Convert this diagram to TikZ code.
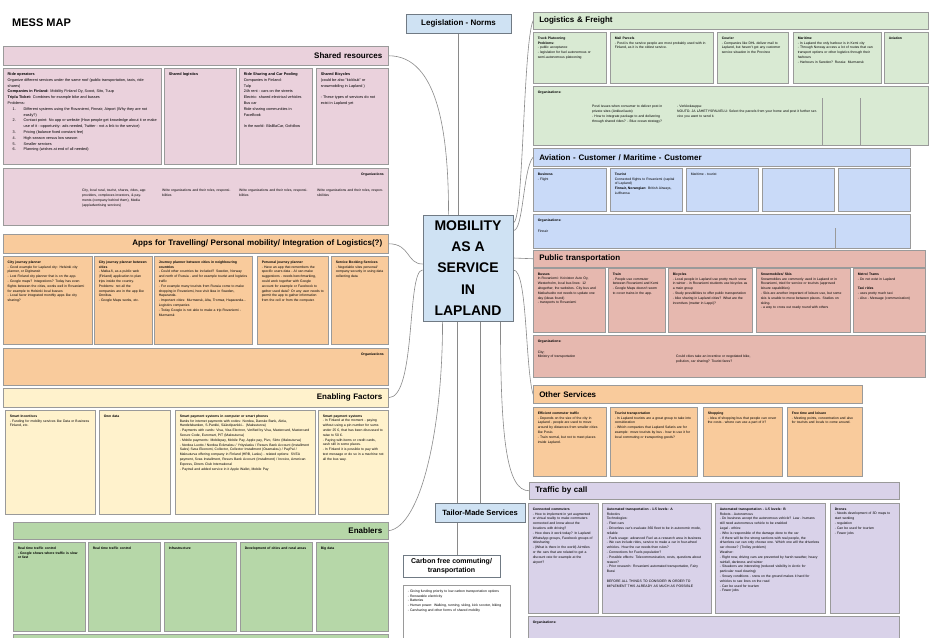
\documentclass[tikz,border=0pt]{standalone}
\usepackage{fontspec}
\setmainfont{Liberation Sans}
\usetikzlibrary{calc}

\definecolor{frame}{HTML}{9A9A9A}
\definecolor{hubframe}{HTML}{707A84}
\definecolor{linkgray}{HTML}{8A8A8A}
\definecolor{srpink}{HTML}{EAD1DC}
\definecolor{apporange}{HTML}{F9CB9C}
\definecolor{enyellow}{HTML}{FFF2CC}
\definecolor{engreen}{HTML}{B6D7A8}
\definecolor{lfgreen}{HTML}{D9EAD3}
\definecolor{avblue}{HTML}{C9DAF8}
\definecolor{ptred}{HTML}{E6B8AF}
\definecolor{tcpurple}{HTML}{D9D2E9}
\definecolor{hubblue}{HTML}{CFE2F3}

\pgfdeclarelayer{bg}
\pgfsetlayers{bg,main}

\newcommand\cardfont{\fontsize{3.4}{4.8}\selectfont}
\newcommand\cardfontlarge{\fontsize{3.8}{5.8}\selectfont}
\newdimen\mmcardw
\newdimen\mmcardh
\newdimen\mmheadw

% numbered item with hanging indent
\newcommand\numitem[1]{\par\hangindent=16pt\hangafter=1\noindent\makebox[16pt][l]{\hspace{5pt}#1}\ignorespaces}

\tikzset{
  cardbox/.style={draw=frame, line width=0.5pt, anchor=north west, inner sep=4.5pt,
    font=\cardfont, align=left},
  headbox/.style={draw=frame, line width=0.5pt, anchor=north west, inner xsep=6pt,
    inner ysep=0pt, font=\bfseries\fontsize{8}{9}\selectfont},
  orgnote/.style={anchor=north west, inner sep=2pt, font=\cardfont, align=left},
  hubbox/.style={draw=hubframe, line width=0.6pt, fill=hubblue, align=center},
  link/.style={draw=linkgray, line width=0.6pt},
  divider/.style={draw=frame, line width=0.4pt},
}

% card: name, fill, x, y, width, height, body
\newcommand\mkcard[7]{%
  \mmcardw=\dimexpr#5pt-9pt\relax
  \mmcardh=\dimexpr#6pt-9pt\relax
  \node[cardbox, fill=#2, text width=\mmcardw] (#1) at (#3,#4)
    {\parbox[t][\mmcardh][t]{\mmcardw}{\raggedright #7}};}
% header bar: name, fill, x, y, width, height, alignment, text
\newcommand\mkhead[8]{%
  \mmheadw=\dimexpr#5pt-12pt\relax
  \node[headbox, fill=#2, minimum width=#5pt, minimum height=#6pt,
        text width=\mmheadw, align=#7] (#1) at (#3,#4) {#8};}

\begin{document}
\begin{tikzpicture}[x=1pt,y=-1pt]
\useasboundingbox (0,0) rectangle (933,637);

\node[anchor=west, inner sep=0pt, font=\bfseries\fontsize{11}{13}\selectfont] (title) at (12,23) {MESS MAP};

% ---------------- hub and side boxes ----------------
\node[hubbox, minimum width=105pt, minimum height=19pt, font=\bfseries\fontsize{8}{9}\selectfont] (leg) at (458.5,23.5) {Legislation - Norms};
\node[hubbox, line width=0.9pt, minimum width=90pt, minimum height=106pt, font=\bfseries\fontsize{14}{21.3}\selectfont] (maas) at (468,268) {MOBILITY\\AS A\\SERVICE\\IN\\LAPLAND};
\node[hubbox, minimum width=90pt, minimum height=19pt, font=\bfseries\fontsize{7.6}{9}\selectfont] (tailor) at (480,512.5) {Tailor-Made Services};
\node[hubbox, fill=white, minimum width=97pt, minimum height=22pt, font=\bfseries\fontsize{7}{9}\selectfont] (carbon) at (451.5,566) {Carbon free commuting/\\transportation};
\mkcard{cfcard}{white}{403}{585}{107}{62}{- Giving funding priority to low carbon transportation options\\- Renewable electricity\\- Batteries\\- Human power: Walking, running, skiing, kick scooter, biking\\- Carsharing and other forms of shared mobility}

% ---------------- Shared resources ----------------
\mkhead{sr}{srpink}{3}{46}{385}{19}{right}{Shared resources}
\mkcard{srA}{srpink}{3}{68}{158}{96}{\cardfontlarge\textbf{Ride operators}\\
Organize different services under the same roof (public transportation, taxis, ride shares)\\
\textbf{Companies in Finland:} Mobility Finland Oy, Scoot, Sito, Tuup\\
\textbf{Tripla Ticket:} Combines for example bike and busses\\
Problems:
\numitem{1.}Different systems using the Rovaniemi, Finnair, Airport (Why they are not easily?)
\numitem{2.}Contact point: No app or website (How people get knowledge about it or make use of it - opportunity: ads needed, Twitter - not a link to the service)
\numitem{3.}Pricing (balance fixed constant fee)
\numitem{4.}High season versus low season
\numitem{5.}Smaller services
\numitem{6.}Planning (wishes at end of all needed)}
\mkcard{srB}{srpink}{164}{68}{72}{96}{\cardfontlarge\textbf{Shared logistics}}
\mkcard{srC}{srpink}{239}{68}{73}{96}{\cardfontlarge\textbf{Ride Sharing and Car Pooling}\\Companies in Finland:\\Tulp\\24h rent - cars on the streets\\Electric: shared electrical vehicles\\Bus car\\Ride sharing communities in FaceBook\par\vspace{5.8pt}In the world: BlaBlaCar, Gofollow}
\mkcard{srD}{srpink}{316}{68}{72}{96}{\cardfontlarge\textbf{Shared Bicycles}\\(could be also "kickbuk" or snowmobiling in Lapland )\par\vspace{5.8pt}- These types of services do not exist in Lapland yet}
\mkcard{srorg}{srpink}{3}{168}{385}{57}{\raggedleft\textbf{Organizations}\par}
\node[orgnote, text width=72pt] (srorgA) at (80,187) {City, local rural, tourist, shares, rides, app providers, complexes investors, \& payments (company behind them), Media (app/advertising services)};
\node[orgnote, text width=70pt] (srorgB) at (160,187) {Write organizations and their roles, responsibilities};
\node[orgnote, text width=70pt] (srorgC) at (237,187) {Write organizations and their roles, responsibilities};
\node[orgnote, text width=68pt] (srorgD) at (315,187) {Write organizations and their roles, responsibilities};

% ---------------- Apps ----------------
\mkhead{apps}{apporange}{3}{234}{385}{19}{right}{Apps for Travelling/ Personal mobility/ Integration of Logistics(?)}
\mkcard{appA}{apporange}{3}{256}{89}{88}{\textbf{City journey planner}\\- Good example for Lapland city: Helsinki city planner, or Digitransit\\- Lost Finland city planner that is on the app.\\- Google maps? Integrations? Today has even flights between the cities, works well in Rovaniemi for example to Helsinki local busses\\- Local favor integrated monthly apps like city sharing?}
\mkcard{appB}{apporange}{94}{256}{58}{88}{\textbf{City journey planner between cities}\\- Matka.fi, as a public web (Finland) application to plan trips inside the country. Problems: not all the companies are in the app like Onnibus.\\- Google Maps works, etc.}
\mkcard{appC}{apporange}{154}{256}{98}{88}{\textbf{Journey planner between cities in neighbouring countries}\\- Could other countries be included? Sweden, Norway and north of Russia - and for example tourist and logistics traffic\\- For example many tourists from Russia come to make shopping in Rovaniemi, how visit Ikea in Sweden, Haparanda.\\- Important cities: Murmansk, Alta, Tromsø, Haparanda... Logistics companies\\- Today Google is not able to make a trip Rovaniemi - Murmansk}
\mkcard{appD}{apporange}{257}{256}{71}{88}{\textbf{Personal journey planner}\\- Have an app that remembers the specific users data - AI can make suggestions - needs benchmarking, could work together with Google account for example or Facebook to gather used data? Or any user needs to permit the app to gather information from the cell or from the computer.}
\mkcard{appE}{apporange}{331}{256}{57}{88}{\textbf{Service Booking Services}\\- Negotiable sites personal/ company security in using data collecting data}
\mkcard{apporg}{apporange}{3}{348}{385}{37}{\raggedleft\textbf{Organizations}\par}

% ---------------- Enabling factors ----------------
\mkhead{ef}{enyellow}{3}{388}{385}{19}{right}{Enabling Factors}
\mkcard{efA}{enyellow}{5}{410}{90}{104}{\textbf{Smart Incentives}\\- Funding for mobility services like Data or Business Finland, etc.}
\mkcard{efB}{enyellow}{99}{410}{71}{104}{\textbf{Own data}}
\mkcard{efC}{enyellow}{175}{410}{140}{104}{\textbf{Smart payment systems in computer or smart phones}\\Banks for internet payments with codes: Nordea, Danske Bank, Aktia, Handelsbanken, S-Pankki, Säästöpankki... (Maksuturva)\\- Payments with cards: Visa, Visa Electron, Verified by Visa, Mastercard, Mastercard Secure Code, Euromart, PIT (Maksuturva)\\- Mobile payments: Mobilepay, Mobile Pay, Apple pay, Pivo, Siirto (Maksuturva)\\- Nordea Luotto / Nordea Erämaksu / Yrityslasku / Resurs Bank Account (Installment Sales) Svea Ekonomi, Collector, Collector Installment (Osamaksu) / PayPal / Maksuturva offering company in Finland (HRB, Lasku) - related options: SVEA payment, Svea Installment, Resurs Bank Account (Installment) / Invoice, American Express, Diners Club International\\- Paytrail and added service in it Apple Wallet, Mobile Pay}
\mkcard{efD}{enyellow}{318}{410}{70}{104}{\textbf{Smart payment systems}\\- In Finland at the moment - paying without using a pin number for sums under 25 €, that has been discussed to raise to 50 €.\\- Paying with items or credit cards, cash still in some places.\\- In Finland it is possible to pay with text message or do so in a machine not all the bus way.}

% ---------------- Enablers ----------------
\mkhead{en}{engreen}{13}{522}{375}{17}{right}{Enablers}
\mkcard{enA}{engreen}{13}{542}{72}{89}{\textbf{Real time traffic control\\- Google shows where traffic is slow or fast}}
\mkcard{enB}{engreen}{88}{542}{72}{89}{\textbf{Real time traffic control}}
\mkcard{enC}{engreen}{164}{542}{72}{89}{\textbf{Infrastructure}}
\mkcard{enD}{engreen}{240}{542}{72}{89}{\textbf{Development of cities and rural areas}}
\mkcard{enE}{engreen}{316}{542}{72}{89}{\textbf{Big data}}
\mkcard{enorg}{engreen}{13}{634}{375}{12}{}

% ---------------- Logistics & Freight ----------------
\mkhead{lf}{lfgreen}{533}{12}{395}{17}{left}{Logistics \& Freight}
\mkcard{lfA}{lfgreen}{533}{32}{73}{51}{\textbf{Truck Platooning}\\\textbf{Problems:}\\- public acceptance\\- legislation for fuel autonomous or semi-autonomous platooning}
\mkcard{lfB}{lfgreen}{610}{32}{103}{51}{\textbf{Mail Parcels}\\- Posti is the service people are most probably used with in Finland, as it is the oldest service.}
\mkcard{lfC}{lfgreen}{717}{32}{71}{51}{\textbf{Courier}\\- Companies like DHL deliver mail to Lapland, but haven't got any customer service situation in the Province}
\mkcard{lfD}{lfgreen}{793}{32}{88}{51}{\textbf{Maritime}\\- In Lapland the only harbour is in Kemi city\\- Through Norway access a lot of routes that can transport options or other logistics through their harbours\\- Harbours in Sweden? Russia: Murmansk}
\mkcard{lfE}{lfgreen}{884}{32}{44}{51}{\textbf{Aviation}}
\mkcard{lforg}{lfgreen}{533}{86}{395}{59}{\textbf{Organizations:}}
\node[orgnote, text width=72pt] (lforgA) at (590,103) {Posti issues when consumer to deliver post in private sites (Ankkuri/auto)\\- How to integrate package to and delivering through shared rides? - Blue ocean strategy?};
\node[orgnote, text width=140pt] (lforgB) at (675,103) {- Verkkokauppa:\\NOUTO- JA LÄHETYSPALVELU: Select the parcels from your home and post it further service you want to send it.};
\draw[divider] (822,98) -- (822,145);
\draw[divider] (860,98) -- (860,145);

% ---------------- Aviation / Maritime ----------------
\mkhead{av}{avblue}{533}{148}{377}{18}{left}{Aviation - Customer / Maritime - Customer}
\mkcard{avA}{avblue}{533}{168}{73}{43}{\textbf{Business}\\- Flight}
\mkcard{avB}{avblue}{610}{168}{72}{43}{\textbf{Tourist}\\Connected flights to Rovaniemi (capital of Lapland)\\\textbf{Finnair, Norwegian:} British Airways, Lufthansa}
\mkcard{avC}{avblue}{686}{168}{72}{43}{Maritime - tourist}
\mkcard{avD}{avblue}{762}{168}{72}{43}{}
\mkcard{avE}{avblue}{838}{168}{72}{43}{}
\mkcard{avorg}{avblue}{533}{214}{377}{34}{\textbf{Organizations:}\par\vspace{6pt}Finnair}
\draw[divider] (835,228) -- (835,248);

% ---------------- Public transportation ----------------
\mkhead{pt}{ptred}{533}{250}{392}{17}{left}{Public transportation}
\mkcard{ptA}{ptred}{533}{268}{72}{64}{\textbf{Busses}\\In Rovaniemi: Koiviston Auto Oy, Westerholm, local bus lines: 12 altogether, the websites. City bus and Matkahuolto net needs to update one day (ideas found)\\- transports to Rovaniemi}
\mkcard{ptB}{ptred}{608}{268}{57}{64}{\textbf{Train}\\- People use commuter between Rovaniemi and Kemi\\- Google Maps doesn't seem to cover trains in the app.}
\mkcard{ptC}{ptred}{668}{268}{84}{64}{\textbf{Bicycles}\\- Local people in Lapland use pretty much snow in winter - in Rovaniemi students use bicycles as a main group\\- Study possibilities to offer public transportation - bike sharing in Lapland cities? What are the incentives (matter in Lappi)?}
\mkcard{ptD}{ptred}{756}{268}{94}{64}{\textbf{Snowmobiles/ Skis}\\Snowmobiles are commonly used in Lapland or in Rovaniemi, tried for service or tourists (approved leisure capabilities)\\- Skis are another important of leisure use, but some skis is unable to move between places. Studies on skiing.\\- a way to cross out ready round with others}
\mkcard{ptE}{ptred}{853}{268}{72}{64}{\textbf{Metro/ Trams}\\- Do not exist in Lapland\par\vspace{4.8pt}\textbf{Taxi rides}\\- uses pretty much taxi\\- Also - Message (communication)}
\mkcard{ptorg}{ptred}{533}{335}{392}{42}{\textbf{Organizations:}\par\vspace{6pt}City;\\Ministry of transportation}
\node[orgnote, text width=80pt] (ptorgB) at (674,353) {Could cities take an incentive or negotiated bike, pollution, car sharing? Tourist fares?};

% ---------------- Other services ----------------
\mkhead{os}{apporange}{533}{385}{329}{18}{left}{Other Services}
\mkcard{osA}{apporange}{533}{407}{73}{69}{\textbf{Efficient commuter traffic}\\- Depends on the size of the city in Lapland - people are used to move around by distances from smaller cities like Posio.\\- Train normal, but not to meet places inside Lapland.}
\mkcard{osB}{apporange}{610}{407}{87}{69}{\textbf{Tourist transportation}\\- In Lapland tourists are a great group to take into consideration\\- Which companies that Lapland Safaris are for example: move tourists by bus - how to use it for local commuting or transporting goods?}
\mkcard{osC}{apporange}{703}{407}{79}{69}{\textbf{Shopping}\\- Idea of shopping bus that people can cover the costs - where can use a part of it?}
\mkcard{osD}{apporange}{787}{407}{75}{69}{\textbf{Free time and leisure}\\- Meeting points, concentration and also for tourists and locals to come around.}

% ---------------- Traffic by call ----------------
\mkhead{tc}{tcpurple}{529}{482}{370}{17}{left}{Traffic by call}
\mkcard{tcA}{tcpurple}{528}{503}{70}{110}{\textbf{Connected commuters}\\- How to implement in yet augmented or virtual reality to make commuters connected and know about the locations with driving?\\- How does it work today? In Lapland WhatsApp groups, Facebook groups of ridesharing\\- (What is there in the world) Airmiles or the cars that are related to get a discount rate for example at the airport?}
\mkcard{tcB}{tcpurple}{602}{503}{109}{110}{\textbf{Automated transportation - 1-5 levels: A}\\Robotics\\Technologies:\\- Fleet cars\\- Driverless car's evaluate 360 fleet to be in autonomic mode, reliable\\- Fuels usage: advanced Fuel as a research area in business\\- We can include rides, service to make a car in four-wheel vehicles. How the car needs then rules?\\- Connections for Fuels population?\\- Possible effects: Telecommunication, costs, questions about reason?\\- Prior research: Rovaniemi automated transportation, Fairy Bussi\par\vspace{4.8pt}BEFORE ALL THINGS TO CONSIDER IN ORDER TO IMPLEMENT THIS ALREADY AS MUCH AS POSSIBLE}
\mkcard{tcC}{tcpurple}{715}{503}{110}{110}{\textbf{Automated transportation - 1-5 levels: B}\\Robots - Autonomous\\- Do business accept the autonomous vehicle? Law - humans still need autonomous vehicle to be enabled\\Legal - ethics:\\- Who is responsible of the damage done to the car\\- If there will be the strong sections with real people, the driverless car can only choose one. Which one will the driverless car choose? (Trolley problem)\\Weather:\\- Right now, driving cars are prevented by harsh weather, heavy rainfall, darkness and winter\\- Situations are interesting (reduced visibility in Arctic for particular road clearing)\\- Snowy conditions - snow on the ground makes it hard for vehicles to see lines on the road\\- Can be used for tourism\\- Fewer jobs}
\mkcard{tcD}{tcpurple}{830}{503}{69}{110}{\textbf{Drones}\\- Needs development of 3D maps to start working\\- regulation\\- Can be used for tourism\\- Fewer jobs}
\mkcard{tcorg}{tcpurple}{528}{616}{371}{30}{\textbf{Organizations:}}

% ---------------- connectors ----------------
\coordinate (cfup) at ($(carbon.north)+(6,0)$);
\begin{pgfonlayer}{bg}
\fill[white] (0,0) rectangle (933,637);
\draw[link] (leg.south) -- (leg.south |- maas.north);
\draw[link] (sr.east) .. controls +(50,0) and +(0,-80) .. ($(maas.north west)+(26,0)$);
\draw[link] (apps.east) .. controls +(22,0) and +(-16,0) .. ($(maas.west)+(0,-4)$);
\draw[link] (ef.east) .. controls +(28,0) and +(-16,0) .. ($(maas.west)+(0,2)$);
\draw[link] ($(maas.south west)+(20,0)$) .. controls +(0,110) and +(32,-4) .. (en.east);
\draw[link] (cfup) -- (cfup |- maas.south);
\draw[link] (tailor.north) -- (tailor.north |- maas.south);
\draw[link] ($(maas.south east)+(-13,0)$) .. controls +(0,120) and +(-22,0) .. (tc.west);
\draw[link] ($(maas.north east)+(0,8)$) .. controls +(10,0) and +(-10,25) .. (lf.west);
\draw[link] ($(maas.north east)+(0,16)$) .. controls +(10,0) and +(-10,12) .. (av.west);
\draw[link] ($(maas.east)+(0,-10)$) .. controls +(10,0) and +(-10,0) .. (pt.west);
\draw[link] ($(maas.east)+(0,2)$) .. controls +(14,0) and +(-8,-30) .. (os.west);
\end{pgfonlayer}
\end{tikzpicture}
\end{document}
